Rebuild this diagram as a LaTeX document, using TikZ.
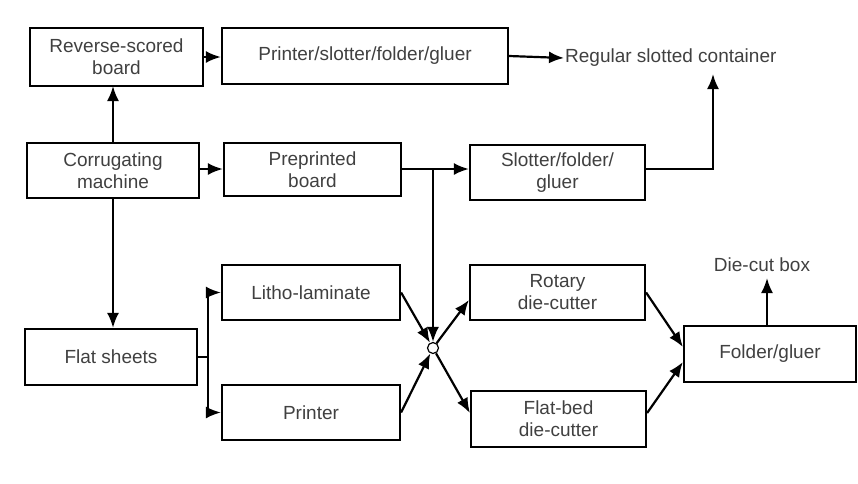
\documentclass[tikz,border=0pt]{standalone}
\usepackage{fontspec}
\setmainfont{Liberation Sans}
\usetikzlibrary{arrows.meta}
\begin{document}
\begin{tikzpicture}[x=1pt,y=-1pt,
  box/.style={draw=black, line width=2.2pt, minimum width=#1, align=center, inner sep=0pt, text=black!75},
  lbl/.style={text=black!75, inner sep=1pt},
  conn/.style={line width=2.2pt, line join=miter, -{Latex[length=15pt,width=12pt]}},
  plain/.style={line width=2.2pt},
  font=\fontsize{19}{22}\selectfont]
\useasboundingbox (0,0) rectangle (858,483);
\node[box=173pt, minimum height=58pt] (rev) at (116.5,57) {Reverse-scored\\board};
\node[box=286pt, minimum height=56pt] (psfg) at (365,56) {Printer/slotter/folder/gluer};
\node[lbl, anchor=west] (rsc) at (564,58) {Regular slotted container};
\node[box=172pt, minimum height=55pt] (corr) at (113,170.5) {Corrugating\\machine};
\node[box=177pt, minimum height=53pt] (pre) at (312.5,169.5) {Preprinted\\board};
\node[box=175pt, minimum height=55pt] (slot) at (557.5,172.5) {Slotter/folder/\\gluer};
\node[box=172pt, minimum height=56pt] (flat) at (111,357) {Flat sheets};
\node[box=178pt, minimum height=55pt] (litho) at (311,292.5) {Litho-laminate};
\node[box=178pt, minimum height=55pt] (printer) at (311,412.5) {Printer};
\node[box=175pt, minimum height=55pt] (rotary) at (557.5,292.5) {Rotary\\die-cutter};
\node[box=175pt, minimum height=56pt] (flatbed) at (558.5,419) {Flat-bed\\die-cutter};
\node[box=172pt, minimum height=56pt] (folder) at (770,354) {Folder/gluer};
\node[lbl] (dcb) at (762,265) {Die-cut box};
\node[circle, draw=black, line width=1.2pt, fill=white, minimum size=11pt, inner sep=0pt] (hub) at (433,348) {};
\coordinate (split) at (208,357);
\coordinate (tee) at (433,169);
\coordinate (rscup) at (713,74);
% connectors
\draw[conn] (113,143) -- (113,86);
\draw[conn] (rev.east |- 0,57) -- (psfg.west |- 0,57);
\draw[conn] (psfg.east) -- (rsc.west);
\draw[conn] (corr.east |- 0,169) -- (pre.west |- 0,169);
\draw[conn] (pre.east |- 0,169) -- (slot.west |- 0,169);
\draw[conn] (tee) -- (hub.north);
\draw[conn] (slot.east |- 0,169) -| (rscup);
\draw[conn] (113,198) -- (flat.north -| 113,0);
\draw[plain] (flat.east) -- (split);
\draw[conn] (split) |- (litho.west);
\draw[conn] (split) |- (printer.west);
\draw[conn] (litho.east) -- (hub);
\draw[conn] (printer.east) -- (hub);
\draw[conn] (hub) -- (rotary.west |- 0,300);
\draw[conn] (hub) -- (flatbed.west |- 0,413);
\draw[conn] (rotary.east) -- (folder.west |- 0,347);
\draw[conn] (flatbed.east |- 0,413) -- (folder.west |- 0,362);
\draw[conn] (folder.north -| 767,0) -- (767,278);
\end{tikzpicture}
\end{document}
